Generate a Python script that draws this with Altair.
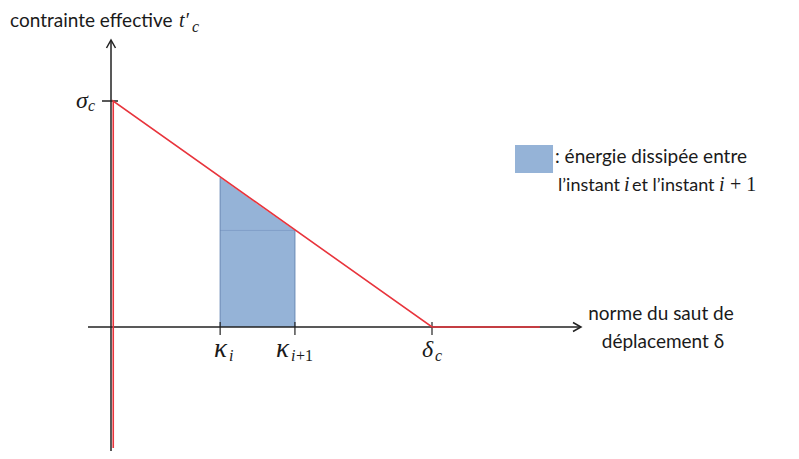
import altair as alt
import pandas as pd

# ---------------- values (schematic units: sigma_c = 1, delta_c = 1)
sigma_c = 1.0
delta_c = 1.0
kappa_i = 0.340
kappa_i1 = 0.573
t_kappa_i = 0.660
t_kappa_i1 = 0.427
delta_end = 1.336      # end of the red plateau after delta_c
red_bottom = -0.535    # lower end of the red vertical branch
red_x = 0.007          # red vertical branch sits just right of the axis

law_delta = [red_x, red_x, delta_c, delta_end]
law_t = [red_bottom, sigma_c, 0.0, 0.0]

area_delta = [kappa_i, kappa_i1]
area_t = [t_kappa_i, t_kappa_i1]

tick_delta = [kappa_i, kappa_i1, delta_c]

legend_box_x = [1.2586, 1.377]
legend_box_y = [0.681, 0.805]

# ---------------- page geometry (pixel -> data helpers for annotations)
W, H = 783, 443
X0, Y0, SX, SY = 111, 327, 321.0, 226.0


def dx(px):
    return (px - X0) / SX


def dy(py):
    return (Y0 - py) / SY


xs = alt.Scale(domain=[dx(8), dx(8 + W)], nice=False, zero=False)
ys = alt.Scale(domain=[dy(8 + H), dy(8)], nice=False, zero=False)


def X(f):
    return alt.X(f, type="quantitative", scale=xs, axis=None)


def Y(f):
    return alt.Y(f, type="quantitative", scale=ys, axis=None)


AX = "#222222"
RED = "#e8343c"
BLUE = "#95b3d7"
SANS = "Lato"
SERIF = "Liberation Serif"

# shaded energy
area_df = pd.DataFrame({"x": area_delta, "y": area_t, "y0": [0.0, 0.0]})
area = alt.Chart(area_df).mark_area(color=BLUE, opacity=1).encode(
    x=X("x"), y=Y("y"), y2=alt.Y2("y0"))
edges = alt.Chart(area_df).mark_rule(color="#6787b3", strokeWidth=1).encode(
    x=X("x"), y=Y("y0"), y2=alt.Y2("y"))
inner_df = pd.DataFrame({"x": [kappa_i], "x2": [kappa_i1], "y": [t_kappa_i1]})
inner = alt.Chart(inner_df).mark_rule(color="#7d9bc4", strokeWidth=0.8).encode(
    x=X("x"), x2=alt.X2("x2"), y=Y("y"))

# axes
xaxis_df = pd.DataFrame({"x": [dx(88)], "x2": [dx(580)], "y": [0.0]})
xaxis = alt.Chart(xaxis_df).mark_rule(color=AX, strokeWidth=1.5).encode(
    x=X("x"), x2=alt.X2("x2"), y=Y("y"))
yaxis_df = pd.DataFrame({"x": [0.0], "y": [dy(8 + H)], "y2": [dy(41)]})
yaxis = alt.Chart(yaxis_df).mark_rule(color=AX, strokeWidth=1.5).encode(
    x=X("x"), y=Y("y"), y2=alt.Y2("y2"))

# ticks
stick_df = pd.DataFrame({"x": [dx(102)], "x2": [dx(118)], "y": [sigma_c]})
stick = alt.Chart(stick_df).mark_rule(color=AX, strokeWidth=1.5).encode(
    x=X("x"), x2=alt.X2("x2"), y=Y("y"))
xt_df = pd.DataFrame({"x": tick_delta, "y": [dy(322)] * 3, "y2": [dy(335)] * 3})
xticks = alt.Chart(xt_df).mark_rule(color=AX, strokeWidth=1.2).encode(
    x=X("x"), y=Y("y"), y2=alt.Y2("y2"))

# softening law
law_df = pd.DataFrame({"x": law_delta, "y": law_t, "o": list(range(len(law_delta)))})
law = alt.Chart(law_df).mark_line(color=RED, strokeWidth=1.6).encode(
    x=X("x"), y=Y("y"), order="o:Q")

# arrow heads
arr_r = alt.Chart(pd.DataFrame({"x": [dx(581)], "y": [0.0]})).mark_point(
    shape="M -8 -4.5 L 0 0 L -8 4.5", filled=False, size=4, stroke=AX,
    strokeWidth=1.5, opacity=1).encode(x=X("x"), y=Y("y"))
arr_u = alt.Chart(pd.DataFrame({"x": [0.0], "y": [dy(40)]})).mark_point(
    shape="M -4.5 8 L 0 0 L 4.5 8", filled=False, size=4, stroke=AX,
    strokeWidth=1.5, opacity=1).encode(x=X("x"), y=Y("y"))

# legend swatch
box_df = pd.DataFrame({"x": [legend_box_x[0]], "x2": [legend_box_x[1]],
                       "y": [legend_box_y[0]], "y2": [legend_box_y[1]]})
box = alt.Chart(box_df).mark_rect(color=BLUE, opacity=1).encode(
    x=X("x"), x2=alt.X2("x2"), y=Y("y"), y2=alt.Y2("y2"))


def texts(rows, font, size, style="normal", align="left"):
    df = pd.DataFrame(rows, columns=["px", "py", "t"])
    df["x"] = df["px"].map(dx)
    df["y"] = df["py"].map(dy)
    return alt.Chart(df).mark_text(
        font=font, fontSize=size, fontStyle=style, align=align,
        baseline="alphabetic", color="#1a1a1a").encode(
        x=X("x"), y=Y("y"), text="t:N")


sans_left = texts([
    (10, 27, "contrainte effective"),
    (555, 163, ": énergie dissipée entre"),
], SANS, 19)
sans_line2 = texts([
    (558, 191, "l’instant"),
    (632, 191, "et l’instant"),
], SANS, 18)
sans_center = texts([
    (661, 320, "norme du saut de"),
    (663, 348, "déplacement δ"),
], SANS, 19, align="center")
math_main = texts([
    (76, 108, "σ"),
    (422, 357, "δ"),
], SERIF, 24, "italic")
math_kappa = texts([
    (214, 357, "κ"),
    (276, 357, "κ"),
], SERIF, 27, "italic")
math_t = texts([(179, 27, "t′"), (624, 191, "i"), (719, 191, "i")], SERIF, 20, "italic")
math_up = texts([(730, 191, "+ 1")], SERIF, 20)
math_sub = texts([
    (88, 111, "c"),
    (229, 361, "i"),
    (291, 361, "i"),
    (435, 361, "c"),
    (192, 32, "c"),
], SERIF, 16, "italic")
math_sub_up = texts([(296, 361, "+1")], SERIF, 16)

chart = alt.layer(
    area, inner, edges, xaxis, yaxis, stick, xticks, law, arr_r, arr_u, box,
    sans_left, sans_line2, sans_center, math_main, math_kappa, math_t, math_up,
    math_sub, math_sub_up,
).properties(width=W, height=H, padding=0, background="white"
).configure_view(stroke=None)

chart.save("out.html", embed_options={"renderer": "svg", "actions": False})
